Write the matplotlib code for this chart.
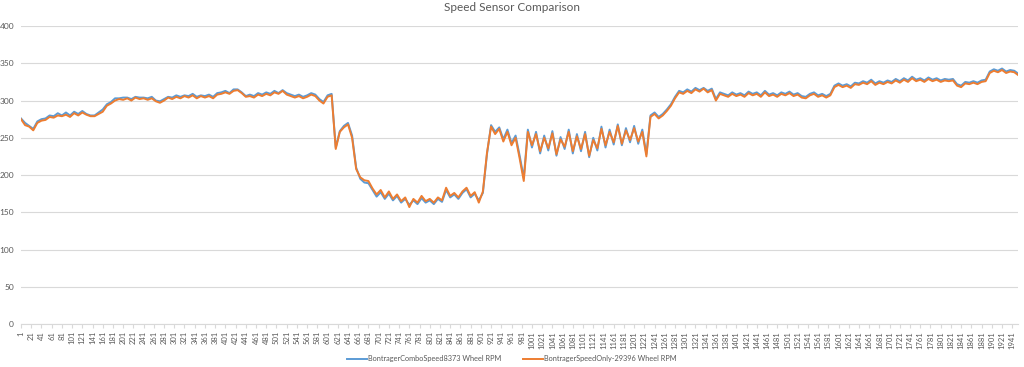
import matplotlib.pyplot as plt
import numpy as np

plt.rcParams['font.family'] = ['Lato', 'DejaVu Sans']

# sample index of each value (every 8th reading)
step = 8
title = 'Speed Sensor Comparison'
label_combo = 'BontragerComboSpeed8373 Wheel RPM'
label_speed = 'BontragerSpeedOnly-29396 Wheel RPM'

speed_only = [
    275, 267, 265, 260, 270, 273, 274, 278, 277, 280, 279, 281, 278, 283, 280, 284,
    281, 279, 279, 282, 285, 293, 296, 300, 302, 301, 303, 300, 304, 302, 303, 301,
    303, 299, 297, 300, 304, 302, 305, 303, 306, 304, 307, 303, 306, 304, 306, 303,
    308, 309, 311, 309, 313, 314, 310, 305, 306, 304, 308, 306, 309, 307, 311, 309,
    313, 308, 306, 304, 306, 303, 305, 308, 306, 300, 296, 305, 307, 235, 258, 264,
    268, 250, 208, 197, 193, 192, 182, 174, 180, 170, 178, 168, 174, 165, 170, 157,
    168, 163, 172, 165, 168, 163, 170, 166, 183, 172, 176, 170, 178, 183, 172, 177,
    163, 178, 230, 265, 255, 262, 245, 258, 240, 250, 222, 192, 258, 240, 255, 232,
    250, 236, 256, 228, 248, 238, 258, 232, 252, 235, 255, 226, 247, 236, 262, 240,
    258, 244, 266, 242, 260, 247, 263, 245, 258, 225, 278, 282, 276, 280, 286, 293,
    303, 311, 309, 313, 310, 315, 312, 316, 311, 314, 300, 309, 307, 305, 309, 306,
    308, 305, 310, 307, 309, 305, 311, 306, 308, 305, 309, 307, 310, 306, 308, 304,
    303, 307, 309, 305, 307, 304, 307, 318, 321, 318, 320, 317, 322, 321, 324, 322,
    326, 321, 324, 322, 325, 323, 327, 324, 328, 325, 330, 326, 328, 325, 329, 326,
    328, 325, 327, 326, 327, 320, 318, 323, 322, 324, 322, 325, 326, 337, 340, 338,
    341, 337, 339, 338, 334,
]

combo = [
    276, 270, 266, 262, 272, 275, 276, 280, 279, 283, 280, 284, 280, 285, 282, 286,
    282, 280, 280, 284, 288, 295, 298, 303, 303, 304, 304, 302, 305, 304, 304, 303,
    305, 300, 299, 302, 305, 304, 307, 305, 307, 306, 309, 305, 307, 306, 308, 305,
    310, 311, 313, 310, 315, 315, 311, 306, 308, 306, 310, 308, 311, 309, 313, 310,
    314, 310, 308, 306, 308, 305, 307, 310, 308, 302, 298, 307, 309, 237, 259, 266,
    270, 253, 210, 195, 190, 189, 180, 171, 177, 168, 175, 166, 172, 163, 168, 160,
    166, 161, 169, 163, 166, 161, 168, 164, 180, 170, 174, 168, 176, 181, 170, 175,
    166, 176, 228, 267, 258, 264, 248, 261, 243, 253, 226, 196, 261, 237, 258, 229,
    253, 233, 259, 226, 251, 235, 261, 229, 255, 232, 258, 224, 250, 233, 265, 237,
    261, 241, 268, 240, 263, 244, 266, 242, 261, 228, 280, 284, 278, 282, 288, 295,
    305, 313, 311, 315, 312, 317, 314, 317, 313, 316, 302, 311, 309, 307, 311, 308,
    310, 307, 312, 309, 311, 307, 313, 308, 310, 307, 311, 309, 312, 308, 310, 306,
    305, 309, 311, 307, 309, 306, 309, 320, 323, 320, 322, 319, 324, 323, 326, 324,
    328, 323, 326, 324, 327, 325, 329, 326, 330, 327, 332, 328, 330, 327, 331, 328,
    330, 327, 329, 328, 329, 322, 320, 325, 324, 326, 324, 327, 328, 339, 342, 340,
    343, 339, 341, 340, 336,
]

idx = np.arange(1, step * len(speed_only), step)
tick_labels = np.arange(1, 1942, 20)

text_color = '#595959'
grid_color = '#d9d9d9'

fig = plt.figure(figsize=(10.24, 3.67), dpi=100)
ax = fig.add_axes([0.0205, 0.117, 0.974, 0.812])

ax.plot(idx, combo, color='#5B9BD5', linewidth=1.4, label=label_combo)
ax.plot(idx, speed_only, color='#ED7D31', linewidth=1.4, label=label_speed)

ax.set_xlim(1, 1953)
ax.set_ylim(0, 400)
ax.set_yticks(np.arange(0, 401, 50))
ax.set_xticks(tick_labels)
ax.set_xticklabels([str(t) for t in tick_labels], rotation=90, fontsize=5.5, color=text_color)
ax.tick_params(axis='y', labelsize=6, colors=text_color, length=0, pad=5)
ax.tick_params(axis='x', length=3, color=grid_color, pad=2)
ax.grid(axis='y', color=grid_color, linewidth=0.8)
ax.set_axisbelow(True)
for side in ['top', 'right', 'left']:
    ax.spines[side].set_visible(False)
ax.spines['bottom'].set_color(grid_color)

fig.suptitle(title, y=0.995, fontsize=8.5, color=text_color)
fig.legend(loc='lower center', bbox_to_anchor=(0.5, -0.005), ncol=2, frameon=False,
           fontsize=5.3, labelcolor=text_color, handlelength=2.6, handletextpad=0.2,
           columnspacing=3.0)

fig.savefig('out.png', dpi=100)
